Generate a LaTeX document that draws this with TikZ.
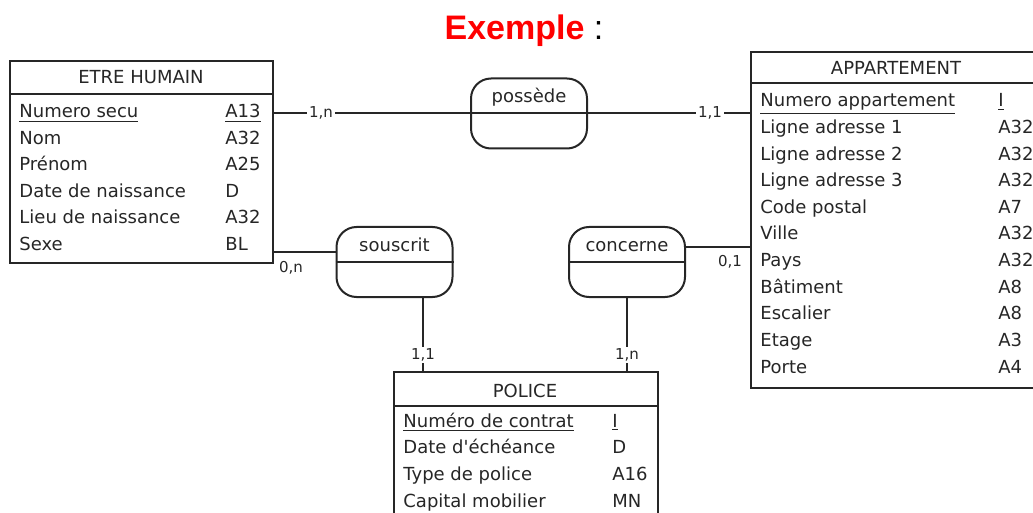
\documentclass[tikz,border=0pt]{standalone}
\usepackage{fontspec}
\setmainfont{DejaVu Sans}
\newfontfamily\titrefont{Liberation Sans}
\usepackage{tikz}
\definecolor{encre}{gray}{0.15}
\newcommand{\pk}[1]{\underline{#1}}

\begin{document}
\begin{tikzpicture}[x=0.5pt,y=-0.5pt,
    entite/.style={draw=encre,line width=1pt,inner sep=0pt},
    relation/.style={draw=encre,line width=1pt,rounded corners=10pt,
      minimum width=58pt,minimum height=35pt,inner sep=0pt},
    attr/.style={anchor=base west,inner sep=0pt,text=encre,
      font=\fontsize{9}{10}\selectfont},
    titre/.style={anchor=base,inner sep=0pt,text=encre,
      font=\fontsize{9}{10}\selectfont},
    card/.style={inner sep=1pt,fill=white,text=encre,
      font=\fontsize{7.5}{8}\selectfont},
    lien/.style={draw=encre,line width=1pt}]
     \useasboundingbox (0,0) rectangle (1033,513);
     \clip (0,0) rectangle (1033,513);
     % titre
     \node[anchor=base,inner sep=0pt,font=\titrefont\fontsize{17}{20}\selectfont]
       (exemple) at (524,40) {\textcolor{red}{\bfseries Exemple} :};
     % entites
     \node[entite,minimum width=131.5pt,minimum height=101pt] (humain) at (141.5,162) {};
     \node[entite,minimum width=147pt,minimum height=168pt] (appart) at (898,220) {};
     \node[entite,minimum width=132pt,minimum height=80pt] (police) at (526,452) {};
     \draw[encre,line width=1pt] (humain.west |- 0,94) -- (humain.east |- 0,94);
     \draw[encre,line width=1pt] (appart.west |- 0,83) -- (appart.east |- 0,83);
     \draw[encre,line width=1pt] (police.west |- 0,406) -- (police.east |- 0,406);
     % ETRE HUMAIN
     \node[titre] (humaint) at (141,84) {ETRE HUMAIN};
     \node[attr] (h1) at (19,118)   {\pk{Numero secu}};   \node[attr] (h1t) at (225,118)   {\pk{A13}};
     \node[attr] (h2) at (19,144.5) {Nom};                \node[attr] (h2t) at (225,144.5) {A32};
     \node[attr] (h3) at (19,171)   {Prénom};             \node[attr] (h3t) at (225,171)   {A25};
     \node[attr] (h4) at (19,197.5) {Date de naissance};  \node[attr] (h4t) at (225,197.5) {D};
     \node[attr] (h5) at (19,224)   {Lieu de naissance};  \node[attr] (h5t) at (225,224)   {A32};
     \node[attr] (h6) at (19,250.5) {Sexe};               \node[attr] (h6t) at (225,250.5) {BL};
     % APPARTEMENT
     \node[titre] (appartt) at (896,75) {APPARTEMENT};
     \node[attr] (a1)  at (760,107)   {\pk{Numero appartement}}; \node[attr] (a1t)  at (998,107)   {\pk{I}};
     \node[attr] (a2)  at (760,133.6) {Ligne adresse 1};  \node[attr] (a2t)  at (998,133.6) {A32};
     \node[attr] (a3)  at (760,160.2) {Ligne adresse 2};  \node[attr] (a3t)  at (998,160.2) {A32};
     \node[attr] (a4)  at (760,186.8) {Ligne adresse 3};  \node[attr] (a4t)  at (998,186.8) {A32};
     \node[attr] (a5)  at (760,213.4) {Code postal};      \node[attr] (a5t)  at (998,213.4) {A7};
     \node[attr] (a6)  at (760,240)   {Ville};            \node[attr] (a6t)  at (998,240)   {A32};
     \node[attr] (a7)  at (760,266.6) {Pays};             \node[attr] (a7t)  at (998,266.6) {A32};
     \node[attr] (a8)  at (760,293.2) {Bâtiment};         \node[attr] (a8t)  at (998,293.2) {A8};
     \node[attr] (a9)  at (760,319.8) {Escalier};         \node[attr] (a9t)  at (998,319.8) {A8};
     \node[attr] (a10) at (760,346.4) {Etage};            \node[attr] (a10t) at (998,346.4) {A3};
     \node[attr] (a11) at (760,373)   {Porte};            \node[attr] (a11t) at (998,373)   {A4};
     % POLICE
     \node[titre] (policet) at (525,397) {POLICE};
     \node[attr] (p1) at (403,427)   {\pk{Numéro de contrat}}; \node[attr] (p1t) at (612,427)   {\pk{I}};
     \node[attr] (p2) at (403,453.7) {Date d\textquotesingle échéance}; \node[attr] (p2t) at (612,453.7) {D};
     \node[attr] (p3) at (403,480.3) {Type de police};    \node[attr] (p3t) at (612,480.3) {A16};
     \node[attr] (p4) at (403,507)   {Capital mobilier};  \node[attr] (p4t) at (612,507)   {MN};
     % relations
     \node[relation] (possede) at (529,113.5) {};
     \node[relation] (souscrit) at (394.5,262) {};
     \node[relation] (concerne) at (627,262) {};
     \draw[lien] (possede.west) -- (possede.east);
     \draw[lien] (souscrit.west) -- (souscrit.east);
     \draw[lien] (concerne.west) -- (concerne.east);
     \node[titre] (possedet) at (529,103) {possède};
     \node[titre] (souscritt) at (394.5,252) {souscrit};
     \node[titre] (concernet) at (627,252) {concerne};
     % liens
     \coordinate (s1) at ([yshift=5pt]souscrit.west);
     \coordinate (s2) at ([xshift=14pt]souscrit.south);
     \coordinate (c1) at ([yshift=7.5pt]concerne.east);
     \draw[lien] (humain.east |- possede.west) -- (possede.west);
     \draw[lien] (possede.east) -- (appart.west |- possede.east);
     \draw[lien] (humain.east |- s1) -- (s1);
     \draw[lien] (c1) -- (appart.west |- c1);
     \draw[lien] (s2) -- (police.north -| s2);
     \draw[lien] (concerne.south) -- (police.north -| concerne.south);
     % cardinalites
     \node[card] (k1) at (321,113) {1,n};
     \node[card] (k2) at (710,113) {1,1};
     \node[card,fill=none] (k3) at (291,268) {0,n};
     \node[card,fill=none] (k4) at (730,262) {0,1};
     \node[card] (k5) at (423,355) {1,1};
     \node[card] (k6) at (627,355) {1,n};
    \end{tikzpicture}
\end{document}
